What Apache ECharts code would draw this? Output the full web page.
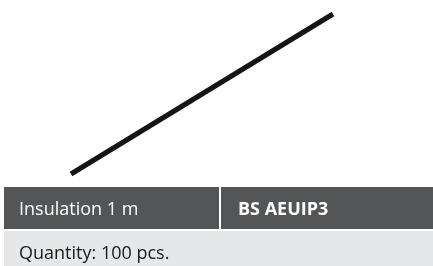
<!DOCTYPE html>
<html lang="en">
<head>
    <meta charset="UTF-8">
    <title>Insulation</title>
    <style>
        html, body { margin: 0; padding: 0; background: #fff; }
    </style>
</head>
<body>
<div id="main" style="width: 433px;height:266px;"></div>
<script src="https://cdn.jsdelivr.net/npm/echarts@6/dist/echarts.min.js"></script>
<script>
    // 绝缘棒两端的位置（按图片像素读数）
    var rodX = [71, 333];
    var rodY = [174, 14];

    var productName = 'Insulation 1 m';
    var productCode = 'BS AEUIP3';
    var quantityText = 'Quantity: 100 pcs.';

    var font = '"Open Sans", "DejaVu Sans", sans-serif';

    var myChart = echarts.init(document.getElementById('main'));
    myChart.setOption({
        animation: false,
        grid: { left: 0, right: 0, top: 0, bottom: 0 },
        xAxis: { type: 'value', min: 0, max: 433, show: false },
        yAxis: { type: 'value', min: 0, max: 266, inverse: true, show: false },
        series: [{
            type: 'line',
            data: rodX.map(function (x, i) { return [x, rodY[i]]; }),
            symbol: 'none',
            lineStyle: { color: '#151515', width: 5, cap: 'butt' }
        }],
        graphic: [
            { type: 'rect', shape: { x: 4, y: 187, width: 429, height: 42 }, style: { fill: '#545556' } },
            { type: 'rect', shape: { x: 219, y: 187, width: 2, height: 42 }, style: { fill: '#ffffff' } },
            { type: 'rect', shape: { x: 4, y: 231, width: 429, height: 35 }, style: { fill: '#e6e7e8' } },
            { type: 'text', style: { x: 19, y: 210, text: productName, fill: '#ffffff', font: '18px ' + font, verticalAlign: 'middle' } },
            { type: 'text', style: { x: 238, y: 210, text: productCode, fill: '#ffffff', font: 'bold 18px ' + font, verticalAlign: 'middle' } },
            { type: 'text', style: { x: 19, y: 254, text: quantityText, fill: '#1a1a1a', font: '18px ' + font, verticalAlign: 'middle' } }
        ]
    });
</script>
</body>
</html>
